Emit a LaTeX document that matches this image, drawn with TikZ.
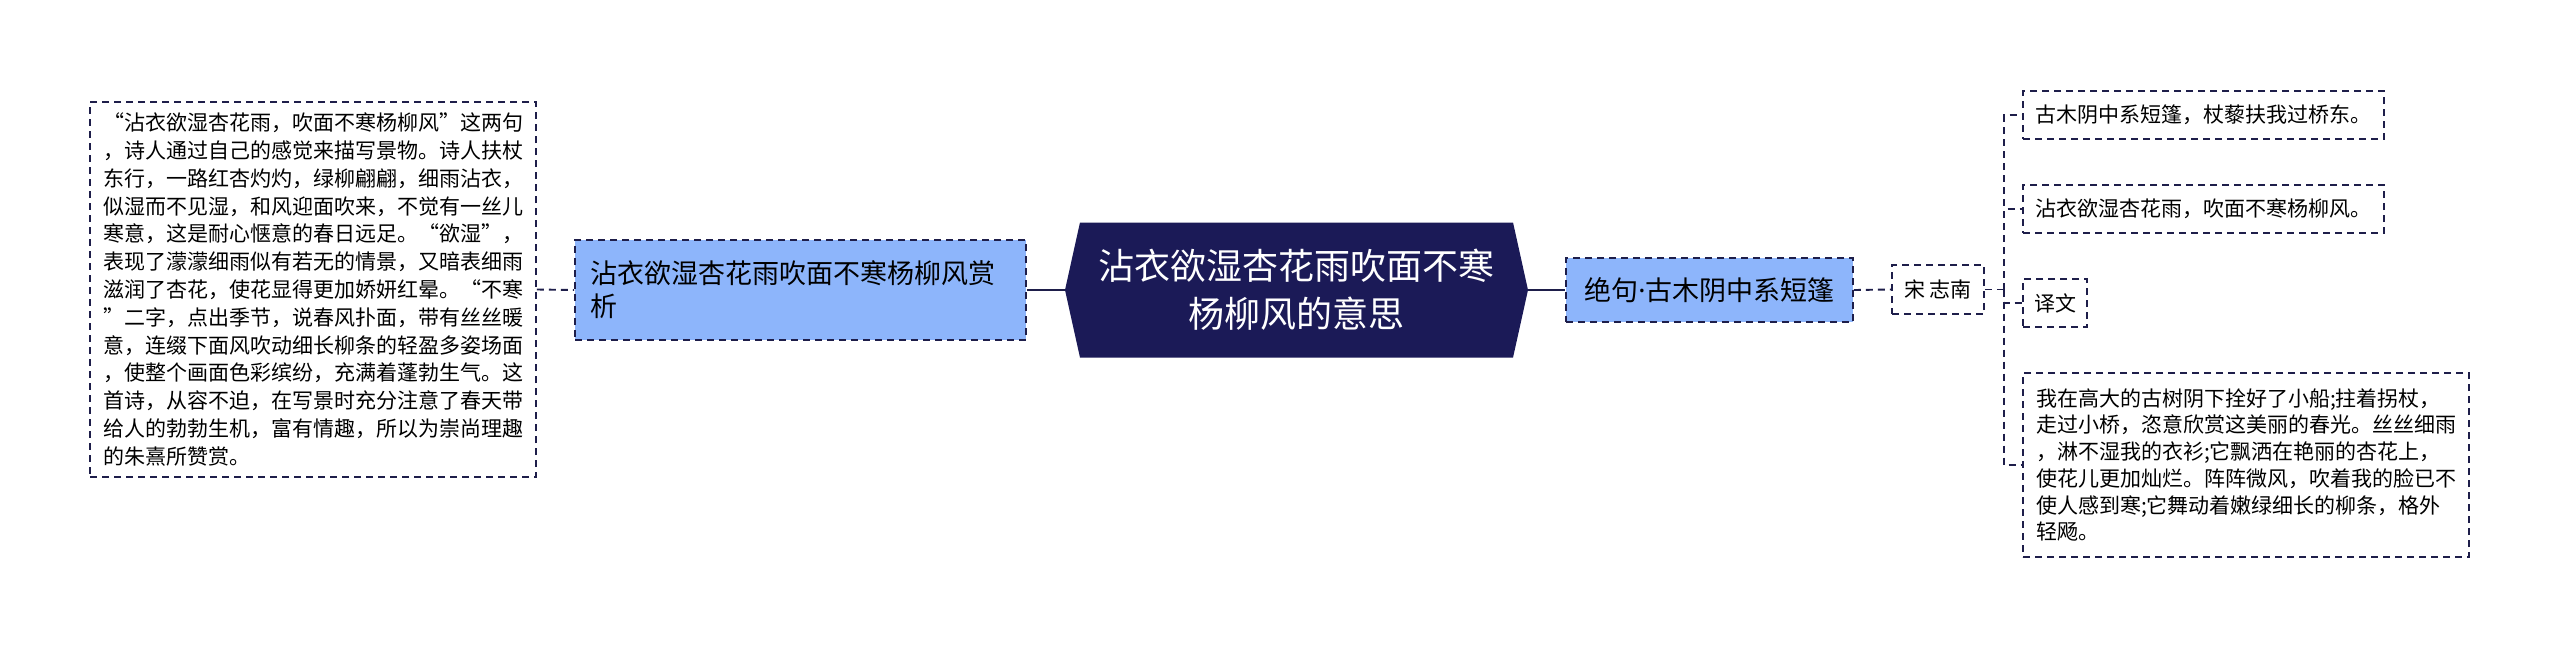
\documentclass[tikz,border=0pt]{standalone}
\usepackage{fontspec}
\setmainfont{Noto Sans CJK SC}
\newfontfamily\latinfont{Noto Sans}
\usetikzlibrary{shapes.symbols}
\definecolor{navy}{HTML}{1B1A57}
\definecolor{lineC}{HTML}{1E1E4A}
\definecolor{bluefill}{HTML}{8DB5FB}
\begin{document}
\begin{tikzpicture}[x=1pt,y=-1pt,
  box/.style={draw=lineC, line width=1.9pt, dash pattern=on 7pt off 5pt, inner sep=0pt},
  textbox/.style={box, font=\fontsize{21}{27.8}\selectfont, align=left},
  bluebox/.style={box, fill=bluefill, font=\fontsize{27}{33}\selectfont},
  conn/.style={draw=lineC, line width=1.9pt},
  dconn/.style={conn, dash pattern=on 7pt off 5pt}]
\fill[white] (0,0) rectangle (2560,649);
\useasboundingbox (0,0) rectangle (2560,649);

\node[textbox, minimum width=446, minimum height=375] (lt) at (313,289.5) {“沾衣欲湿杏花雨，吹面不寒杨柳风”这两句\\，诗人通过自己的感觉来描写景物。诗人扶杖\\东行，一路红杏灼灼，绿柳翩翩，细雨沾衣，\\似湿而不见湿，和风迎面吹来，不觉有一丝儿\\寒意，这是耐心惬意的春日远足。“欲湿”，\\表现了濛濛细雨似有若无的情景，又暗表细雨\\滋润了杏花，使花显得更加娇妍红晕。“不寒\\”二字，点出季节，说春风扑面，带有丝丝暖\\意，连缀下面风吹动细长柳条的轻盈多姿场面\\，使整个画面色彩缤纷，充满着蓬勃生气。这\\首诗，从容不迫，在写景时充分注意了春天带\\给人的勃勃生机，富有情趣，所以为崇尚理趣\\的朱熹所赞赏。};

\node[bluebox, minimum width=451, minimum height=100, text width=420, align=left] (lb) at (800.5,290) {沾衣欲湿杏花雨吹面不寒杨柳风赏\\析};

\node[signal, signal to=west and east, signal pointer angle=155, fill=navy, minimum width=463, minimum height=135, inner sep=0pt, text=white, font=\fontsize{36}{48}\selectfont, align=center] (c) at (1296.5,290) {沾衣欲湿杏花雨吹面不寒\\杨柳风的意思};

\node[bluebox, minimum width=287, minimum height=64] (rb) at (1709.5,290) {绝句{\latinfont ·}古木阴中系短篷};

\node[box, minimum width=92, minimum height=49, font=\fontsize{21}{25}\selectfont] (s) at (1938,289.5) {宋 志南};

\node[box, minimum width=361, minimum height=48, font=\fontsize{21}{25}\selectfont] (b1) at (2203.5,115) {古木阴中系短篷，杖藜扶我过桥东。};
\node[box, minimum width=361, minimum height=48, font=\fontsize{21}{25}\selectfont] (b2) at (2203.5,209) {沾衣欲湿杏花雨，吹面不寒杨柳风。};
\node[box, minimum width=64, minimum height=48, font=\fontsize{21}{25}\selectfont] (b3) at (2055,303) {译文};
\node[box, minimum width=446, minimum height=184, font=\fontsize{21}{26.7}\selectfont, align=left] (b4) at (2246,465) {我在高大的古树阴下拴好了小船;拄着拐杖，\\走过小桥，恣意欣赏这美丽的春光。丝丝细雨\\，淋不湿我的衣衫;它飘洒在艳丽的杏花上，\\使花儿更加灿烂。阵阵微风，吹着我的脸已不\\使人感到寒;它舞动着嫩绿细长的柳条，格外\\轻飏。};

\coordinate (trunk) at (2004,289.5);

\draw[dconn] (lt.east) -- (lb.west);
\draw[conn] (lb.east) -- (c.west);
\draw[conn] (c.east) -- (rb.west);
\draw[dconn] (rb.east) -- (s.west);
\draw[dconn] (s.east) -- (trunk);
\draw[dconn] (trunk) |- (b1.west);
\draw[dconn] (trunk) |- (b2.west);
\draw[dconn] (trunk) |- (b3.west);
\draw[dconn] (trunk) |- (b4.west);
\end{tikzpicture}
\end{document}
